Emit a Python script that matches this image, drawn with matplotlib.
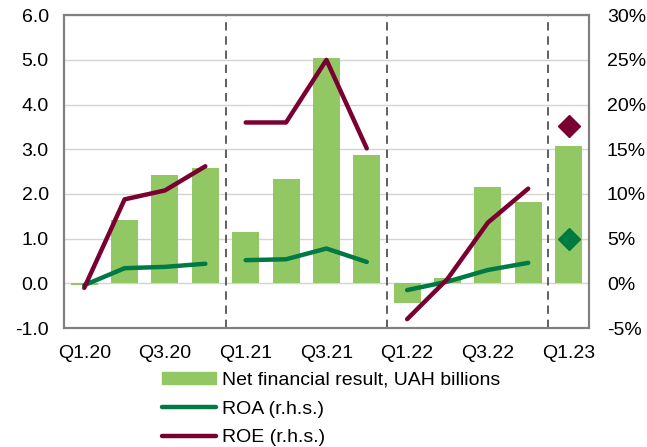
import numpy as np
import matplotlib.pyplot as plt
from matplotlib.patches import Patch
from matplotlib.lines import Line2D

plt.rcParams['font.family'] = ['Liberation Sans', 'DejaVu Sans']

quarters = ["Q1.20", "Q2.20", "Q3.20", "Q4.20",
            "Q1.21", "Q2.21", "Q3.21", "Q4.21",
            "Q1.22", "Q2.22", "Q3.22", "Q4.22",
            "Q1.23"]
net_result = [-0.03, 1.41, 2.43, 2.58,
              1.15, 2.34, 5.05, 2.87,
              -0.43, 0.12, 2.15, 1.82,
              3.08]
roa = [-0.2, 1.7, 1.85, 2.2,
       2.6, 2.7, 3.9, 2.4,
       -0.75, 0.2, 1.5, 2.3,
       5.0]
roe = [-0.5, 9.4, 10.4, 13.1,
       18.0, 18.0, 25.0, 15.1,
       -4.0, 0.5, 6.8, 10.6,
       17.6]

c_bar = "#92C864"
c_roa = "#007A45"
c_roe = "#7B0032"
fs = 14

fig = plt.figure(figsize=(6.47, 4.47), dpi=100)
ax = fig.add_axes([0.099, 0.266, 0.811, 0.700])
ax2 = ax.twinx()

x = np.arange(len(quarters))
ax.bar(x, net_result, width=0.67, color=c_bar, zorder=2)

# yearly segments for the ratio lines, last quarter as single markers
for s in range(0, 12, 4):
    xs = x[s:s + 4]
    ax2.plot(xs, roa[s:s + 4], color=c_roa, lw=3.2, solid_capstyle="round", zorder=3)
    ax2.plot(xs, roe[s:s + 4], color=c_roe, lw=3.2, solid_capstyle="round", zorder=3)
ax2.plot(x[12], roa[12], marker="D", ms=11, color=c_roa, ls="none")
ax2.plot(x[12], roe[12], marker="D", ms=11, color=c_roe, ls="none")

for b in (3.5, 7.5, 11.5):
    ax.axvline(b, color="#444444", lw=1.2, ls=(0, (5, 3.5)), zorder=1)

ax.set_xlim(-0.5, 12.5)
ax.set_ylim(-1, 6)
ax2.set_ylim(-5, 30)
ax.set_yticks(np.arange(-1, 6.1, 1))
ax.set_yticklabels(["%.1f" % v for v in np.arange(-1, 6.1, 1)])
ax2.set_yticks(np.arange(-5, 31, 5))
ax2.set_yticklabels(["%d%%" % v for v in np.arange(-5, 31, 5)])
ax.set_xticks(x[::2])
ax.set_xticklabels(quarters[::2])

ax.yaxis.grid(True, color="#D4D4D4", lw=1, zorder=0)
ax.set_axisbelow(True)
ax.tick_params(axis="y", length=0, labelsize=fs, pad=11)
ax.tick_params(axis="x", length=0, labelsize=fs, pad=12)
ax2.tick_params(length=0, labelsize=fs, pad=13)
for a in (ax, ax2):
    for sp in a.spines.values():
        sp.set_color("#808080")
        sp.set_linewidth(1.5)

handles = [Patch(color=c_bar),
           Line2D([], [], color=c_roa, lw=3.2, solid_capstyle="round"),
           Line2D([], [], color=c_roe, lw=3.2, solid_capstyle="round")]
labels = ["Net financial result, UAH billions", "ROA (r.h.s.)", "ROE (r.h.s.)"]
fig.legend(handles, labels, loc="upper left", bbox_to_anchor=(0.25, 0.168),
           frameon=False, fontsize=fs, handlelength=2.8, handletextpad=0.3,
           handleheight=0.6, labelspacing=0.6, borderpad=0, borderaxespad=0)

fig.savefig("out.png", dpi=100)
